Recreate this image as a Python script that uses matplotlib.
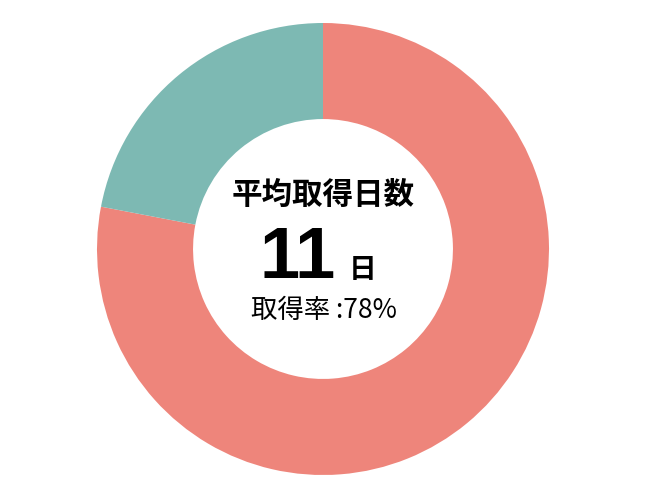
import matplotlib
matplotlib.use("Agg")
import matplotlib.pyplot as plt

labels = ["取得", "未取得"]
values = [78, 22]
colors = ["#EE857B", "#7DB9B3"]
title_text = "平均取得日数"
days_value = "11"
days_unit = "日"
rate_text = "取得率 :78%"

plt.rcParams['font.family'] = ['Noto Sans CJK JP', 'DejaVu Sans']

W, H = 650, 500
fig = plt.figure(figsize=(6.5, 5.0), dpi=100)
ax = fig.add_axes([0, 0, 1, 1])
cx, cy, r = 323, 249, 226

ax.pie(values, colors=colors, startangle=90, counterclock=False,
       radius=1.0, wedgeprops=dict(width=0.425, edgecolor='none'))
ax.set_aspect('auto')
ax.set_xlim(-cx / r, (W - cx) / r)
ax.set_ylim(-(H - cy) / r, cy / r)
ax.axis('off')

def fx(x):
    return x / W

def fy(y):
    return 1 - y / H

fig.text(fx(323), fy(195), title_text, fontsize=22, fontweight='bold',
         ha='center', va='center', color='black')
fig.text(fx(336), fy(278), days_value, fontsize=52, fontweight='bold',
         ha='right', va='baseline', color='black',
         family=['Liberation Sans', 'DejaVu Sans'])
fig.text(fx(349), fy(278), days_unit, fontsize=20, fontweight='bold',
         ha='left', va='baseline', color='black')
fig.text(fx(324), fy(311), rate_text, fontsize=19,
         ha='center', va='center', color='black')

fig.savefig("out.png", dpi=100)
